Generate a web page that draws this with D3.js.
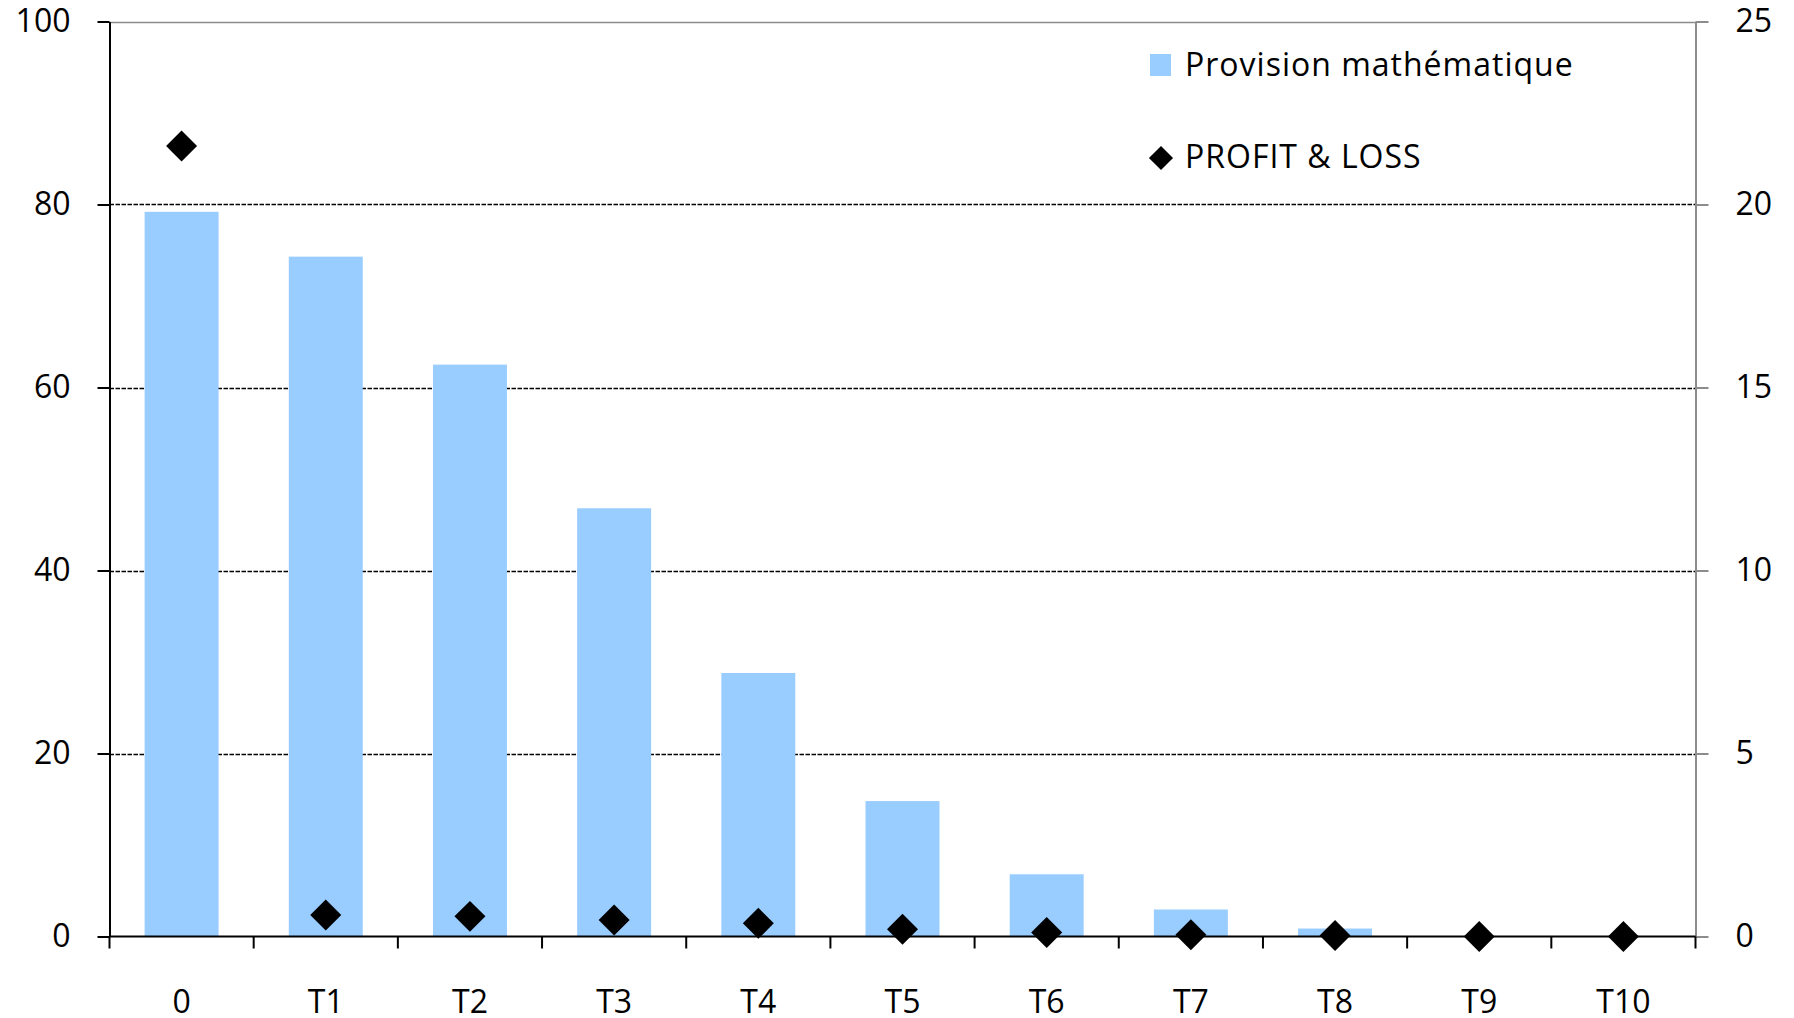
<!DOCTYPE html>
<html>
<head>
<meta charset="utf-8">
<script src="https://cdn.jsdelivr.net/npm/d3@7"></script>
<style>
  html, body { margin: 0; padding: 0; background: #fff; }
  svg { display: block; }
  text { font-family: "Open Sans", Lato, sans-serif; fill: #000; }
</style>
</head>
<body>
<svg id="chart" width="1794" height="1018"></svg>
<script>
// Categories and series
const categories = ["0", "T1", "T2", "T3", "T4", "T5", "T6", "T7", "T8", "T9", "T10"];
const provision = [79.2, 74.3, 62.5, 46.8, 28.8, 14.8, 6.8, 2.95, 0.87, 0.0, 0.0];
const profitLoss = [21.6, 0.59, 0.55, 0.45, 0.36, 0.2, 0.11, 0.05, 0.03, 0.0, 0.0];
const leftTicks = [0, 20, 40, 60, 80, 100];
const rightTicks = [0, 5, 10, 15, 20, 25];
const seriesNames = ["Provision mathématique", "PROFIT & LOSS"];

const FONT = "'Open Sans', Lato, sans-serif";
const svg = d3.select("#chart");
const plot = { left: 109.5, right: 1695.5, top: 21.5, bottom: 936.5 };

const x = d3.scaleBand()
  .domain(categories)
  .range([plot.left, plot.right])
  .paddingInner(0.487)
  .paddingOuter(0.487 / 2);

const y = d3.scaleLinear().domain([0, 100]).range([plot.bottom, plot.top]);
const y2 = d3.scaleLinear().domain([0, 25]).range([plot.bottom, plot.top]);

// Horizontal gridlines (dashed), top edge drawn grey
svg.append("g").selectAll("line")
  .data(leftTicks.filter(d => d > 0))
  .join("line")
  .attr("x1", plot.left).attr("x2", plot.right)
  .attr("y1", d => Math.round(y(d)) + 0.5).attr("y2", d => Math.round(y(d)) + 0.5)
  .attr("stroke", d => d === 100 ? "#8c8c8c" : "#000")
  .attr("stroke-width", d => d === 100 ? 1.5 : 1.6)
  .attr("stroke-dasharray", d => d === 100 ? null : "4.5,1.5");

// Bars
svg.append("g").selectAll("rect")
  .data(categories.map((c, i) => ({ c, v: provision[i] })))
  .join("rect")
  .attr("x", d => x(d.c))
  .attr("width", x.bandwidth())
  .attr("y", d => y(d.v))
  .attr("height", d => y(0) - y(d.v))
  .attr("fill", "#99ccff");

// Left axis
const gLeft = svg.append("g")
  .attr("transform", `translate(${plot.left},0)`)
  .call(d3.axisLeft(y).tickValues(leftTicks).tickSize(12).tickPadding(27).tickSizeOuter(0));
gLeft.select(".domain").attr("stroke", "#000").attr("stroke-width", 2);
gLeft.selectAll(".tick line").attr("stroke", "#000").attr("stroke-width", 2);
gLeft.selectAll(".tick text").style("font-size", "32px").style("font-family", FONT);

// Right axis
const gRight = svg.append("g")
  .attr("transform", `translate(${plot.right},0)`)
  .call(d3.axisRight(y2).tickValues(rightTicks).tickSize(13).tickPadding(27).tickSizeOuter(0));
gRight.select(".domain").attr("stroke", "#8c8c8c").attr("stroke-width", 2);
gRight.selectAll(".tick line").attr("stroke", "#8c8c8c").attr("stroke-width", 2);
gRight.selectAll(".tick text").style("font-size", "32px").style("font-family", FONT);

// Bottom axis: labels at category centres, ticks at category boundaries
const gBottom = svg.append("g")
  .attr("transform", `translate(0,${plot.bottom})`)
  .call(d3.axisBottom(x).tickSize(0).tickPadding(54).tickSizeOuter(0));
gBottom.select(".domain").remove();
gBottom.selectAll(".tick text").style("font-size", "32px").style("font-family", FONT);

svg.append("line")
  .attr("x1", plot.left).attr("x2", plot.right)
  .attr("y1", plot.bottom).attr("y2", plot.bottom)
  .attr("stroke", "#000").attr("stroke-width", 2);

const boundaries = d3.range(categories.length + 1).map(i => plot.left + i * x.step());
svg.append("g").selectAll("line")
  .data(boundaries)
  .join("line")
  .attr("x1", d => d).attr("x2", d => d)
  .attr("y1", plot.bottom).attr("y2", plot.bottom + 12)
  .attr("stroke", "#000").attr("stroke-width", 2);

// Diamonds on the secondary axis
const diamond = d3.symbol().type(d3.symbolSquare).size(480);
svg.append("g").selectAll("path")
  .data(categories.map((c, i) => ({ c, v: profitLoss[i] })))
  .join("path")
  .attr("d", diamond)
  .attr("transform", d => `translate(${x(d.c) + x.bandwidth() / 2},${y2(d.v)}) rotate(45)`)
  .attr("fill", "#000");

// Legend
const legend = svg.append("g");
legend.append("rect")
  .attr("x", 1150).attr("y", 54).attr("width", 21).attr("height", 22)
  .attr("fill", "#99ccff");
legend.append("text")
  .attr("x", 1185).attr("y", 76)
  .style("font-size", "32px")
  .style("letter-spacing", "1px")
  .text(seriesNames[0]);
legend.append("path")
  .attr("d", d3.symbol().type(d3.symbolSquare).size(290))
  .attr("transform", "translate(1161,158) rotate(45)")
  .attr("fill", "#000");
legend.append("text")
  .attr("x", 1185).attr("y", 168)
  .style("font-size", "32px")
  .style("letter-spacing", "1px")
  .text(seriesNames[1]);
</script>
</body>
</html>
